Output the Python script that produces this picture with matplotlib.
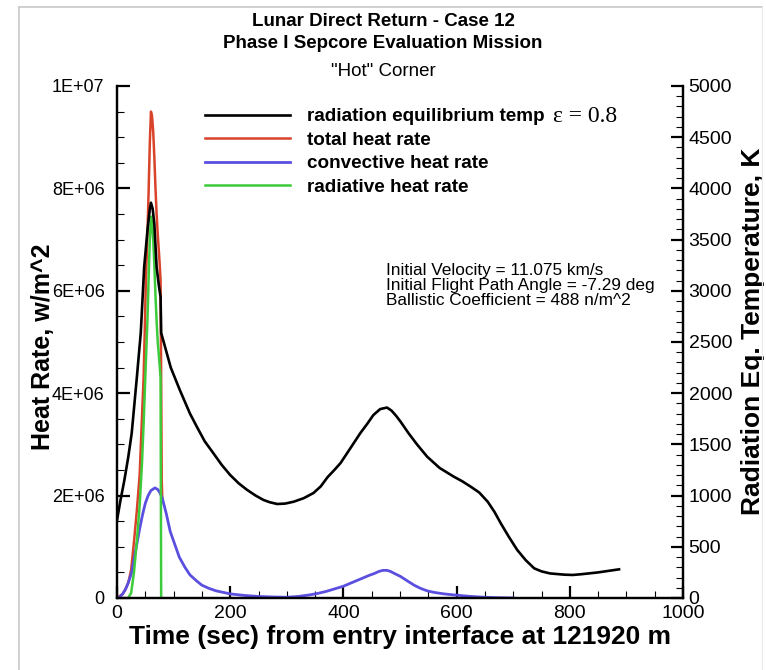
import matplotlib
matplotlib.use("Agg")
import matplotlib.pyplot as plt
from matplotlib.ticker import MultipleLocator, FuncFormatter
from matplotlib.lines import Line2D

plt.rcParams['font.family'] = ['Liberation Sans', 'DejaVu Sans']

# radiation equilibrium temperature (K), right axis
time_temp = [0, 6, 13, 20, 26, 30, 35, 42, 48, 54, 58, 60, 63, 66, 70, 74, 77, 78,
             85, 95, 111, 129, 141, 155, 170, 185, 200, 215, 230, 245, 259, 270,
             283, 297, 312, 330, 347, 360, 372, 384, 395, 412, 430, 442, 453, 465,
             477, 485, 493, 501, 515, 530, 548, 570, 595, 610, 625, 640, 655, 667,
             678, 692, 707, 722, 737, 750, 765, 790, 805, 820, 850, 887]
temp = [760, 950, 1150, 1380, 1610, 1850, 2150, 2590, 3230, 3600, 3800, 3860, 3800,
        3650, 3230, 3050, 2940, 2590, 2450, 2250, 2031, 1800, 1673, 1530, 1416,
        1300, 1201, 1120, 1055, 1000, 957, 935, 918, 922, 940, 975, 1025, 1090,
        1180, 1250, 1318, 1460, 1611, 1700, 1787, 1845, 1860, 1830, 1780, 1722,
        1610, 1500, 1380, 1270, 1185, 1140, 1087, 1030, 940, 840, 730, 600, 470,
        370, 290, 260, 240, 228, 225, 232, 250, 280]

# total heat rate (W/m^2)
time_total = [0, 10, 15, 20, 25, 30, 35, 40, 44, 47, 49, 51, 54, 56, 58, 60, 62, 64,
              66, 68, 70, 72, 75, 77, 78, 79, 80]
total = [0.0, 0.08e6, 0.17e6, 0.3e6, 0.55e6, 1.1e6, 1.7e6, 2.4e6, 3.5e6, 4.3e6,
         5.2e6, 6.2e6, 7.2e6, 8.0e6, 8.9e6, 9.5e6, 9.4e6, 9.1e6, 8.6e6, 8.0e6,
         7.5e6, 7.1e6, 6.6e6, 6.2e6, 4.3e6, 2.3e6, 1.95e6]

# convective heat rate (W/m^2)
time_conv = [0, 5, 10, 15, 20, 26, 30, 35, 40, 45, 50, 55, 60, 67, 72, 76, 80, 87,
             94, 102, 110, 120, 129, 140, 150, 162, 175, 200, 225, 250, 275, 300,
             320, 340, 355, 370, 385, 400, 415, 430, 445, 455, 463, 470, 477, 483,
             490, 501, 515, 525, 536, 548, 560, 578, 595, 620, 640, 660, 678, 700]
conv = [0.0, 0.02e6, 0.08e6, 0.17e6, 0.3e6, 0.5e6, 0.75e6, 1.05e6, 1.35e6, 1.62e6,
        1.85e6, 2.0e6, 2.1e6, 2.15e6, 2.12e6, 2.05e6, 1.95e6, 1.65e6, 1.3e6,
        1.05e6, 0.8e6, 0.6e6, 0.45e6, 0.34e6, 0.25e6, 0.19e6, 0.14e6, 0.08e6,
        0.05e6, 0.03e6, 0.02e6, 0.015e6, 0.03e6, 0.06e6, 0.09e6, 0.13e6, 0.18e6,
        0.23e6, 0.3e6, 0.37e6, 0.44e6, 0.48e6, 0.52e6, 0.54e6, 0.54e6, 0.52e6,
        0.48e6, 0.42e6, 0.32e6, 0.25e6, 0.19e6, 0.14e6, 0.11e6, 0.08e6, 0.06e6,
        0.035e6, 0.02e6, 0.01e6, 0.005e6, 0.0]

# radiative heat rate (W/m^2)
time_rad = [20, 25, 30, 35, 40, 44, 47, 49, 51, 54, 56, 58, 60, 62, 64, 66, 68, 70,
            72, 75, 77, 78]
rad = [0.0, 0.1e6, 0.5e6, 1.1e6, 1.8e6, 2.6e6, 3.4e6, 4.0e6, 4.6e6, 5.5e6, 6.3e6,
       7.0e6, 7.45e6, 7.3e6, 7.0e6, 6.5e6, 5.9e6, 5.4e6, 5.0e6, 4.6e6, 4.3e6, 0.0]

W, H = 766, 670
fig = plt.figure(figsize=(W / 100, H / 100), dpi=100)
ax = fig.add_axes([117 / W, 1 - 598 / H, (683 - 117) / W, (598 - 86) / H])
ax2 = ax.twinx()

l_tot, = ax.plot(time_total, total, color='#d8432a', lw=1.8)
l_conv, = ax.plot(time_conv, conv, color='#5b4fe0', lw=2.0)
l_rad, = ax.plot(time_rad, rad, color='#3ccb3a', lw=1.8)
ax2.plot(time_temp, temp, color='black', lw=1.9)
l_temp = Line2D([], [], color='black', lw=1.9)

ax.set_xlim(0, 1000)
ax.set_ylim(0, 1e7)
ax2.set_ylim(0, 5000)

for a in (ax, ax2):
    a.spines['top'].set_visible(False)
    for s in a.spines.values():
        s.set_linewidth(1.6)

ax.xaxis.set_major_locator(MultipleLocator(200))
ax.xaxis.set_minor_locator(MultipleLocator(50))
ax.yaxis.set_major_locator(MultipleLocator(2e6))
ax.yaxis.set_minor_locator(MultipleLocator(0.5e6))
ax2.yaxis.set_major_locator(MultipleLocator(500))
ax2.yaxis.set_minor_locator(MultipleLocator(100))


def sci_label(v, pos):
    if v == 0:
        return '0'
    exp = 0
    m = v
    while m >= 10:
        m /= 10
        exp += 1
    return '%dE+%02d' % (round(m), exp)


ax.yaxis.set_major_formatter(FuncFormatter(sci_label))

ax.tick_params(axis='both', which='major', direction='in', length=9, width=1.6,
               top=False, right=False)
ax.tick_params(axis='both', which='minor', direction='in', length=5, width=0.8,
               top=False, right=False)
ax.tick_params(axis='y', labelsize=13, pad=9)
ax.tick_params(axis='x', labelsize=14, pad=5)
ax2.tick_params(axis='y', which='major', direction='in', length=9, width=1.6,
                labelsize=14, pad=4)
ax2.tick_params(axis='y', which='minor', direction='in', length=5, width=0.8)

ax.set_xlabel('Time (sec) from entry interface at 121920 m', fontsize=19,
              fontweight='bold', labelpad=2)
ax.set_ylabel('Heat Rate, w/m^2', fontsize=18, fontweight='bold')
ax.yaxis.set_label_coords(-0.11, 0.49)
ax2.set_ylabel('Radiation Eq. Temperature, K', fontsize=19, fontweight='bold')
ax2.yaxis.set_label_coords(1.102, 0.52)

fig.text(383 / W, 1 - 21 / H, 'Lunar Direct Return - Case 12', ha='center',
         va='center', fontsize=13.5, fontweight='bold')
fig.text(383 / W, 1 - 43 / H, 'Phase I Sepcore Evaluation Mission', ha='center',
         va='center', fontsize=13.5, fontweight='bold')
fig.text(383 / W, 1 - 72 / H, '"Hot" Corner', ha='center', va='center', fontsize=13.5)

leg = ax.legend([l_temp, l_tot, l_conv, l_rad],
                ['radiation equilibrium temp', 'total heat rate',
                 'convective heat rate', 'radiative heat rate'],
                loc='upper left', bbox_to_anchor=(205 / W, 1 - 108 / H),
                bbox_transform=fig.transFigure, frameon=False,
                prop={'weight': 'bold', 'size': 13.6}, handlelength=4.5,
                handletextpad=0.9, labelspacing=0.33, borderpad=0, borderaxespad=0)
fig.text(553 / W, 1 - 116 / H, '\u03b5 = 0.8', family='Liberation Serif',
         fontsize=17, ha='left', va='center')

fig.text(386 / W, 1 - 263 / H, 'Initial Velocity = 11.075 km/s\n'
         'Initial Flight Path Angle = -7.29 deg\nBallistic Coefficient = 488 n/m^2',
         fontsize=12.4, va='top', ha='left', linespacing=1.0)

# thin grey frame
frame = dict(color='#c8c8c8', lw=1.2, transform=fig.transFigure)
fig.add_artist(Line2D([19 / W, 19 / W], [0, 1 - 7 / H], **frame))
fig.add_artist(Line2D([19 / W, 762 / W], [1 - 7 / H, 1 - 7 / H], **frame))
fig.add_artist(Line2D([762 / W, 762 / W], [0, 1 - 7 / H], color='#ececec', lw=1,
                      transform=fig.transFigure))

fig.savefig('out.png', dpi=100)
